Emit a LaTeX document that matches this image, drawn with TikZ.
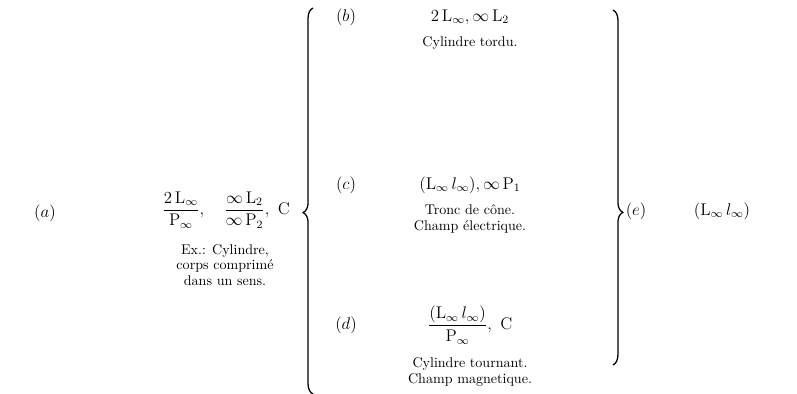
\documentclass[tikz,border=0pt]{standalone}
\usepackage{amsmath}
\usetikzlibrary{decorations.pathreplacing}

\begin{document}
\begin{tikzpicture}[
  x=0.025cm, y=-0.025cm,
  font=\normalsize,
  tag/.style={inner sep=1pt, font=\large},
  frm/.style={inner sep=1pt, align=center, font=\large},
  note/.style={inner sep=1pt, align=center, font=\normalsize\linespread{0.92}\selectfont},
  brc/.style={decorate, line width=0.9pt,
    decoration={brace, amplitude=7pt}}
]
  \useasboundingbox (0,0) rectangle (797,394);
  % left column
  \node[tag] (ta) at (45,213) {$(a)$};
  \node[frm] (fa) at (226,210) {$\dfrac{2\,\mathrm{L}_\infty}{\mathrm{P}_\infty},\quad
    \dfrac{\infty\,\mathrm{L}_2}{\infty\,\mathrm{P}_2},\ \mathrm{C}$};
  \node[note] (ca) at (225,265) {Ex.: Cylindre,\\corps comprimé\\dans un sens.};
  % braces
  \coordinate (lbB) at (313,394);
  \coordinate (lbT) at (313,8);
  \coordinate (rbT) at (613,10);
  \coordinate (rbB) at (613,365);
  \draw[brc, decoration={aspect=0.47}] (lbB) -- (lbT);
  \draw[brc, decoration={aspect=0.57}] (rbT) -- (rbB);
  % middle column
  \node[tag] (tb) at (346,17) {$(b)$};
  \node[frm] (fb) at (470,17) {$2\,\mathrm{L}_\infty, \infty\,\mathrm{L}_2$};
  \node[note] (cb) at (470,43) {Cylindre tordu.};
  \node[tag] (tc) at (346,185) {$(c)$};
  \node[frm] (fc) at (470,185) {$(\mathrm{L}_\infty\, l_\infty), \infty\,\mathrm{P}_1$};
  \node[note] (cc) at (470,219) {Tronc de cône.\\Champ électrique.};
  \node[tag] (td) at (346,325) {$(d)$};
  \node[frm] (fd) at (470,325) {$\dfrac{(\mathrm{L}_\infty\, l_\infty)}{\mathrm{P}_\infty},\ \mathrm{C}$};
  \node[note] (cd) at (470,372) {Cylindre tournant.\\Champ magnetique.};
  % right column
  \node[tag] (te) at (636,211) {$(e)$};
  \node[frm] (fe) at (722,211) {$(\mathrm{L}_\infty\, l_\infty)$};
\end{tikzpicture}
\end{document}
